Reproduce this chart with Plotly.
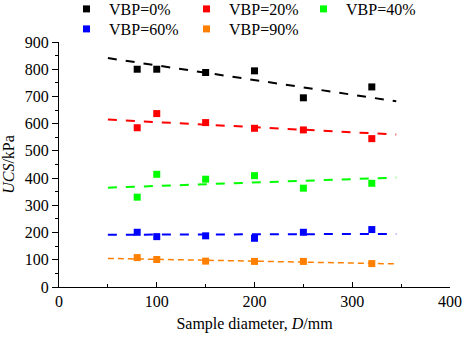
import plotly.graph_objects as go

diameters = [80, 100, 150, 200, 250, 320]
series_names = ["VBP=0%", "VBP=20%", "VBP=40%", "VBP=60%", "VBP=90%"]
ucs_0 = [800, 800, 788, 794, 695, 735]
ucs_20 = [585, 637, 604, 583, 577, 545]
ucs_40 = [330, 414, 396, 409, 363, 381]
ucs_60 = [201, 185, 188, 179, 201, 211]
ucs_90 = [108, 101, 95, 94, 94, 86]

trend_x = [50, 345]
trend_0 = [841, 682]
trend_20 = [615, 560]
trend_40 = [365, 402]
trend_60 = [192, 195]
trend_90 = [105, 85]

colors = ["#000000", "#FF0000", "#00FF00", "#0000FF", "#FF8000"]
x_ticks = [0, 100, 200, 300, 400]
y_ticks = [0, 100, 200, 300, 400, 500, 600, 700, 800, 900]

FONT = "Liberation Serif"

values = [ucs_0, ucs_20, ucs_40, ucs_60, ucs_90]
trends = [trend_0, trend_20, trend_40, trend_60, trend_90]
dashes = ["dash", "dash", "dash", "dash", "6px,4px"]
widths = [2, 2, 2, 2, 1.5]

# legend marker centre positions (px) for each entry
leg_px = [85, 205, 322, 85, 205]
leg_py = [8, 8, 8, 28, 28]
leg_ids = ["legend", "legend2", "legend3", "legend4", "legend5"]

fig = go.Figure()
for i in range(5):
    fig.add_trace(go.Scatter(
        x=trend_x, y=trends[i], mode="lines", showlegend=False,
        line=dict(color=colors[i], width=widths[i], dash=dashes[i]),
        hoverinfo="skip"))
for i in range(5):
    fig.add_trace(go.Scatter(
        x=diameters, y=values[i], mode="markers", name=series_names[i],
        marker=dict(symbol="square", size=7, color=colors[i]),
        legend=leg_ids[i]))

W, H = 464, 344
SHIFT = 10         # figure is drawn SHIFT px taller and lifted by SHIFT px on the page
HF = H + SHIFT
LEG_OFF = 16       # distance from legend box top to entry centre
legends = {}
for i, lid in enumerate(leg_ids):
    top = max(0, leg_py[i] + SHIFT - LEG_OFF)
    legends[lid] = dict(
        orientation="h", font=dict(family=FONT, size=16, color="black"),
        bgcolor="rgba(0,0,0,0)", xanchor="left", yanchor="top",
        xref="container", yref="container", itemwidth=35,
        x=(leg_px[i] - 21) / W, y=1 - top / HF)

fig.update_layout(
    width=W, height=HF,
    margin=dict(l=59, r=14, t=42 + SHIFT, b=57, autoexpand=False),
    paper_bgcolor="white", plot_bgcolor="white",
    font=dict(family=FONT, size=16, color="black"),
    xaxis=dict(range=[0, 400], tickvals=x_ticks, showgrid=False, zeroline=False,
               showline=True, linecolor="black", linewidth=1, automargin=False,
               ticks="inside", ticklen=5, tickcolor="black",
               minor=dict(dtick=50, ticks="inside", ticklen=3, tickcolor="black"),
               tickfont=dict(family=FONT, size=16),
               title=dict(text="Sample diameter, <i>D</i>/mm", standoff=8,
                          font=dict(family=FONT, size=16))),
    yaxis=dict(range=[0, 900], tickvals=y_ticks, showgrid=False, zeroline=False,
               showline=True, linecolor="black", linewidth=1, automargin=False,
               ticks="outside", ticklen=6, tickcolor="black",
               minor=dict(dtick=50, ticks="outside", ticklen=3, tickcolor="black"),
               tickfont=dict(family=FONT, size=16),
               title=dict(text="<i>UCS</i>/kPa", standoff=6,
                          font=dict(family=FONT, size=16))),
    **legends,
)

fig.write_html(
    "out.html",
    config={"displayModeBar": False, "staticPlot": True},
    post_script=("document.body.style.margin='0';document.body.style.overflow='hidden';"
                 "document.getElementById('{plot_id}').style.marginTop='-%dpx';" % SHIFT),
)
